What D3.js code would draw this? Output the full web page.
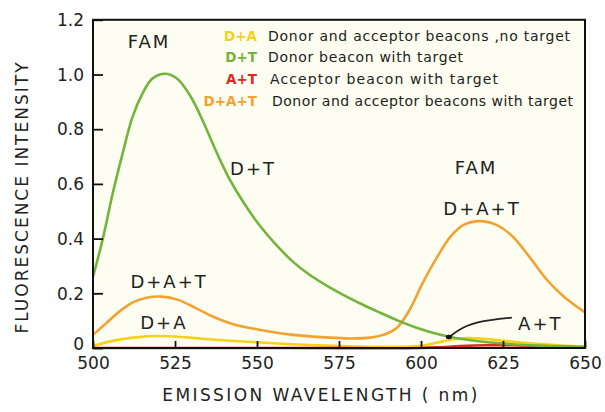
<!DOCTYPE html>
<html>
<head>
<meta charset="utf-8">
<script src="https://cdn.jsdelivr.net/npm/d3@7"></script>
<style>
  html, body { margin: 0; padding: 0; background: #ffffff; }
  svg { display: block; font-family: "DejaVu Sans", sans-serif; }
</style>
</head>
<body>
<div id="chart"></div>
<script>
// ---------- data ----------
const xTicks = [500, 525, 550, 575, 600, 625, 650];
const yTicks = [0, 0.2, 0.4, 0.6, 0.8, 1.0, 1.2];
const yTickLabels = ["0", "0.2", "0.4", "0.6", "0.8", "1.0", "1.2"];

// D+T : donor beacon with target (green)
const dtWavelength = [500, 503, 506, 509, 512, 515, 518, 522, 525.5, 529.5, 533.5, 537.5, 541.5, 546, 551, 556, 561, 566, 572, 577, 582, 587, 593, 598, 603, 608, 613, 623, 633, 650];
const dtIntensity  = [0.26, 0.4, 0.565, 0.71, 0.843, 0.928, 0.984, 1.003, 0.986, 0.925, 0.83, 0.72, 0.62, 0.53, 0.445, 0.375, 0.315, 0.268, 0.223, 0.19, 0.16, 0.132, 0.1, 0.077, 0.058, 0.043, 0.032, 0.018, 0.01, 0.004];

// D+A+T : donor and acceptor beacons with target (orange)
const datWavelength = [500, 504, 508, 512, 516, 521, 526, 531.5, 536.5, 542.5, 551, 561, 571, 578, 584.5, 588.5, 592.5, 596.5, 600.5, 605, 609, 613, 618, 623, 628, 633, 638, 643.5, 650];
const datIntensity  = [0.048, 0.09, 0.133, 0.166, 0.183, 0.188, 0.176, 0.145, 0.115, 0.088, 0.066, 0.048, 0.039, 0.035, 0.038, 0.048, 0.072, 0.139, 0.237, 0.334, 0.407, 0.45, 0.464, 0.45, 0.407, 0.334, 0.255, 0.188, 0.13];

// D+A : donor and acceptor beacons, no target (yellow)
const daWavelength = [500, 506, 513, 520, 528.5, 538.5, 551, 566, 576, 590, 600, 605, 610, 614, 618, 624, 633, 643, 650];
const daIntensity  = [0.007, 0.026, 0.039, 0.044, 0.039, 0.029, 0.02, 0.011, 0.007, 0.004, 0.008, 0.02, 0.032, 0.036, 0.035, 0.028, 0.017, 0.009, 0.005];

// A+T : acceptor beacon with target (red)
const atWavelength = [500, 560, 600, 606, 612, 620, 628, 636, 644, 650];
const atIntensity  = [0, 0, 0, 0.003, 0.007, 0.01, 0.01, 0.007, 0.004, 0.002];

const legendKeys  = ["D+A", "D+T", "A+T", "D+A+T"];
const legendTexts = ["Donor and acceptor beacons ,no target", "Donor beacon with target", "Acceptor beacon with target", "Donor and acceptor beacons with target"];

// ---------- chart ----------
const W = 605, H = 412;
const colors = { "D+A": "#f5d21a", "D+T": "#72b43c", "A+T": "#e3261e", "D+A+T": "#f3a232" };

const svg = d3.select("#chart").append("svg").attr("width", W).attr("height", H);

const x = d3.scaleLinear().domain([500, 650]).range([93, 585]);
const y = d3.scaleLinear().domain([0, 1.2]).range([348, 19.8]);

// plot background
svg.append("rect")
  .attr("x", x(500)).attr("y", y(1.2))
  .attr("width", x(650) - x(500)).attr("height", y(0) - y(1.2))
  .attr("fill", "#fefdf1");

// series
const line = d3.line().x(d => x(d[0])).y(d => y(Math.max(0, d[1]))).curve(d3.curveCatmullRom.alpha(0.5));
const series = [
  { key: "D+A", xs: daWavelength, ys: daIntensity },
  { key: "A+T", xs: atWavelength, ys: atIntensity },
  { key: "D+A+T", xs: datWavelength, ys: datIntensity },
  { key: "D+T", xs: dtWavelength, ys: dtIntensity }
];
series.forEach(s => {
  svg.append("path")
    .datum(s.xs.map((w, i) => [w, s.ys[i]]))
    .attr("d", line)
    .attr("fill", "none")
    .attr("stroke", colors[s.key])
    .attr("stroke-width", 2.6)
    .attr("stroke-linejoin", "round");
});

// axes (ticks pointing inward)
const xAxis = d3.axisBottom(x).tickValues(xTicks).tickSize(-7).tickPadding(9).tickFormat(d3.format("d"));
const yAxis = d3.axisLeft(y).tickValues(yTicks).tickSize(-10).tickPadding(9)
  .tickFormat((d, i) => yTickLabels[i]);

const gx = svg.append("g").attr("transform", `translate(0,${y(0)})`).call(xAxis);
const gy = svg.append("g").attr("transform", `translate(${x(500)},0)`).call(yAxis);
[gx, gy].forEach(g => {
  g.select(".domain").remove();
  g.selectAll(".tick line").attr("stroke", "#111").attr("stroke-width", 1.8);
  g.selectAll(".tick text").attr("fill", "#222").attr("font-size", 17)
    .attr("font-family", "DejaVu Sans, sans-serif");
});
gy.selectAll(".tick text").attr("dy", (d, i) => i === 0 ? "0.1em" : "0.34em");

// frame
svg.append("rect")
  .attr("x", x(500)).attr("y", y(1.2))
  .attr("width", x(650) - x(500)).attr("height", y(0) - y(1.2))
  .attr("fill", "none").attr("stroke", "#111").attr("stroke-width", 2);

// axis titles
svg.append("text")
  .attr("x", 321).attr("y", 401)
  .attr("text-anchor", "middle").attr("font-size", 17).attr("letter-spacing", 2.4)
  .attr("fill", "#222")
  .text("EMISSION  WAVELENGTH  ( nm)");

svg.append("text")
  .attr("transform", "translate(28,197) rotate(-90)")
  .attr("text-anchor", "middle").attr("font-size", 17).attr("letter-spacing", 2)
  .attr("fill", "#222")
  .text("FLUORESCENCE  INTENSITY");

// in-plot annotations
const notes = [
  { t: "FAM",   nm: 517.1, v: 1.097 },
  { t: "D+T",   nm: 548.8, v: 0.633 },
  { t: "D+A+T", nm: 523.2, v: 0.219 },
  { t: "D+A",   nm: 521.6, v: 0.069 },
  { t: "FAM",   nm: 616.8, v: 0.636 },
  { t: "D+A+T", nm: 618.6, v: 0.486 }
];
notes.forEach(n => {
  svg.append("text")
    .attr("x", x(n.nm)).attr("y", y(n.v))
    .attr("text-anchor", "middle").attr("font-size", 18).attr("letter-spacing", 2)
    .attr("fill", "#222").text(n.t);
});

// A+T leader
const leader = [[608.5, 0.040], [612.6, 0.076], [618.0, 0.099], [627.7, 0.111]];
svg.append("path")
  .attr("d", d3.line().x(d => x(d[0])).y(d => y(d[1])).curve(d3.curveBasis)(leader))
  .attr("fill", "none").attr("stroke", "#222").attr("stroke-width", 1.8);
svg.append("ellipse")
  .attr("cx", x(608.5)).attr("cy", y(0.040)).attr("rx", 3).attr("ry", 2.2)
  .attr("fill", "#111");
svg.append("text")
  .attr("x", x(629.6)).attr("y", y(0.066))
  .attr("font-size", 18).attr("letter-spacing", 2).attr("fill", "#222").text("A+T");

// legend
const legendRowY = [40.5, 62, 84, 106];
const legendTextX = [268, 268, 270, 272];
const legendTextW = [302, 195, 228, 301];
legendKeys.forEach((k, i) => {
  svg.append("text")
    .attr("x", 257).attr("y", legendRowY[i])
    .attr("text-anchor", "end").attr("font-size", 13.5).attr("font-weight", "bold")
    .attr("fill", colors[k]).text(k);
  svg.append("text")
    .attr("x", legendTextX[i]).attr("y", legendRowY[i])
    .attr("font-size", 14).attr("fill", "#222")
    .attr("textLength", legendTextW[i]).attr("lengthAdjust", "spacing")
    .text(legendTexts[i]);
});
</script>
</body>
</html>
